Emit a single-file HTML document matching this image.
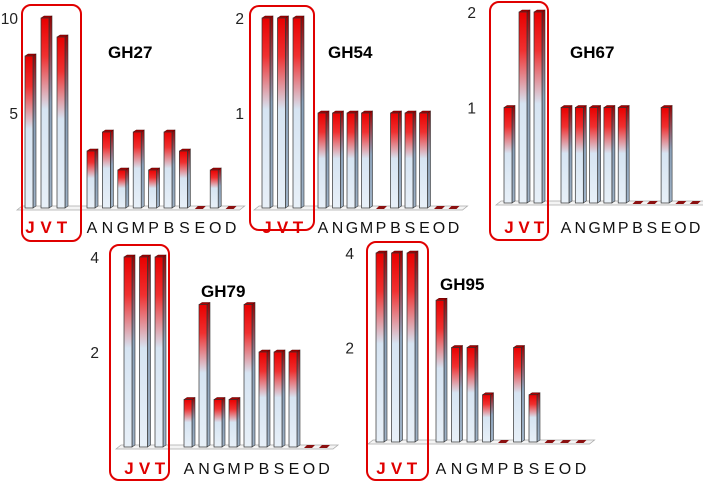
<!DOCTYPE html>
<html><head><meta charset="utf-8"><style>
html,body{margin:0;padding:0;background:#fff;width:703px;height:482px;overflow:hidden}
svg{display:block;font-family:"Liberation Sans",Calibri,sans-serif}
</style></head><body>
<svg id="c" width="703" height="482" viewBox="0 0 703 482" xmlns="http://www.w3.org/2000/svg">
<defs>
<linearGradient id="bg" x1="0" y1="0" x2="0" y2="1">
<stop offset="0" stop-color="#e80000"/><stop offset="0.2" stop-color="#f03030"/>
<stop offset="0.48" stop-color="#d6e4f2"/><stop offset="1" stop-color="#e8f0f8"/>
</linearGradient>
<linearGradient id="sg" x1="0" y1="0" x2="0" y2="1">
<stop offset="0" stop-color="#900"/><stop offset="0.45" stop-color="#8aa0b8"/><stop offset="1" stop-color="#9fb2c6"/>
</linearGradient>
</defs>
</svg>
<script>
const categories = ["J","V","T","A","N","G","M","P","B","S","E","O","D"];
const panelNames = ["GH27","GH54","GH67","GH79","GH95"];
const valsGH27 = [8,10,9,3,4,2,4,2,4,3,0,2,0];
const valsGH54 = [2,2,2,1,1,1,1,0,1,1,1,0,0];
const valsGH67 = [1,2,2,1,1,1,1,1,0,0,1,0,0];
const valsGH79 = [4,4,4,1,3,1,1,3,2,2,2,0,0];
const valsGH95 = [4,4,4,3,2,2,1,0,2,1,0,0,0];
const ticksGH27 = [5,10];
const ticksGH54 = [1,2];
const ticksGH67 = [1,2];
const ticksGH79 = [2,4];
const ticksGH95 = [2,4];

const NS="http://www.w3.org/2000/svg";
const svg=document.getElementById('c');
function mk(tag,attrs,parent){const e=document.createElementNS(NS,tag);for(const k in attrs)e.setAttribute(k,attrs[k]);(parent||svg).appendChild(e);return e;}

const layout=[
 {vals:valsGH27,ticks:ticksGH27,max:10,base:208,top:18,xJ:29,pJ:16,xA:91,pA:15.4,tickX:18,title:[108,58],box:[22,5,59,236],lblY:227},
 {vals:valsGH54,ticks:ticksGH54,max:2,base:208,top:18,xJ:266,pJ:15.5,xA:322,pA:14.5,tickX:244,title:[328,58],box:[250,6,64,224],lblY:227},
 {vals:valsGH67,ticks:ticksGH67,max:2,base:203,top:12,xJ:508,pJ:15,xA:565,pA:14.3,tickX:476,title:[570,58],box:[490,2,58,238],lblY:227},
 {vals:valsGH79,ticks:ticksGH79,max:4,base:447,top:257,xJ:128,pJ:15.5,xA:188,pA:15,tickX:99,title:[201,297],box:[110,245,59,235],lblY:468},
 {vals:valsGH95,ticks:ticksGH95,max:4,base:442,top:253,xJ:380,pJ:15.5,xA:440,pA:15.5,tickX:354,title:[440,290],box:[367,242,61,238],lblY:468}
];

layout.forEach((L,pi)=>{
 const g=mk('g',{});
 
 
 const y=v=>L.base-(v/L.max)*(L.base-L.top);
 const x=i=>i<3?L.xJ+i*L.pJ:L.xA+(i-3)*L.pA;
 const x0=x(0)-12,x1=x(12)+10;
 const fl=mk('path',{d:`M${x0} ${L.base+2} L${x0+5} ${L.base-2} L${x1+5} ${L.base-2} L${x1} ${L.base+2} Z`,fill:'#f4f4f4',stroke:'#aaa','stroke-width':0.8},g);
 
 
 L.ticks.forEach(t=>{
  const tl=mk('text',{x:L.tickX,y:y(t)+6,'text-anchor':'end','font-size':15.5,fill:'#222'},g);
  tl.textContent=t;
  
  
 });
 L.vals.forEach((v,i)=>{
  const cx=x(i),w=8,left=cx-w/2;
  if(v<=0){
   const z=mk('path',{d:`M${left} ${L.base+1} L${left+3} ${L.base-2} L${left+11} ${L.base-2} L${left+8} ${L.base+1} Z`,fill:'#8b1010'},g);
   
   
   return;
  }
  const top=y(v);
  const bg=mk('g',{},g);
  
  
  mk('path',{d:`M${left+w} ${top} L${left+w+3} ${top-2} L${left+w+3} ${L.base-2} L${left+w} ${L.base} Z`,fill:'url(#sg)',stroke:'#333','stroke-width':0.6},bg);
  mk('path',{d:`M${left} ${top} L${left+3} ${top-2} L${left+w+3} ${top-2} L${left+w} ${top} Z`,fill:'#a00',stroke:'#500','stroke-width':0.5},bg);
  mk('rect',{x:left,y:top,width:w,height:L.base-top,fill:'url(#bg)',stroke:'#333','stroke-width':0.7},bg);
 });
 categories.forEach((c,i)=>{
  const red=i<3;
  const t=mk('text',{x:x(i)+1,y:L.lblY+6,'text-anchor':'middle','font-size':red?17:16,'font-weight':red?'bold':'normal',fill:red?'#e00000':'#111'},g);
  t.textContent=c;
  
  
 });
 const b=mk('rect',{x:L.box[0],y:L.box[1],width:L.box[2],height:L.box[3],rx:9,fill:'none',stroke:'#e00000','stroke-width':2},g);
 
 
 const tt=mk('text',{x:L.title[0],y:L.title[1],'font-size':17,'font-weight':'bold',fill:'#000'},g);
 tt.textContent=panelNames[pi];
 
 
});
</script>
</body></html>
